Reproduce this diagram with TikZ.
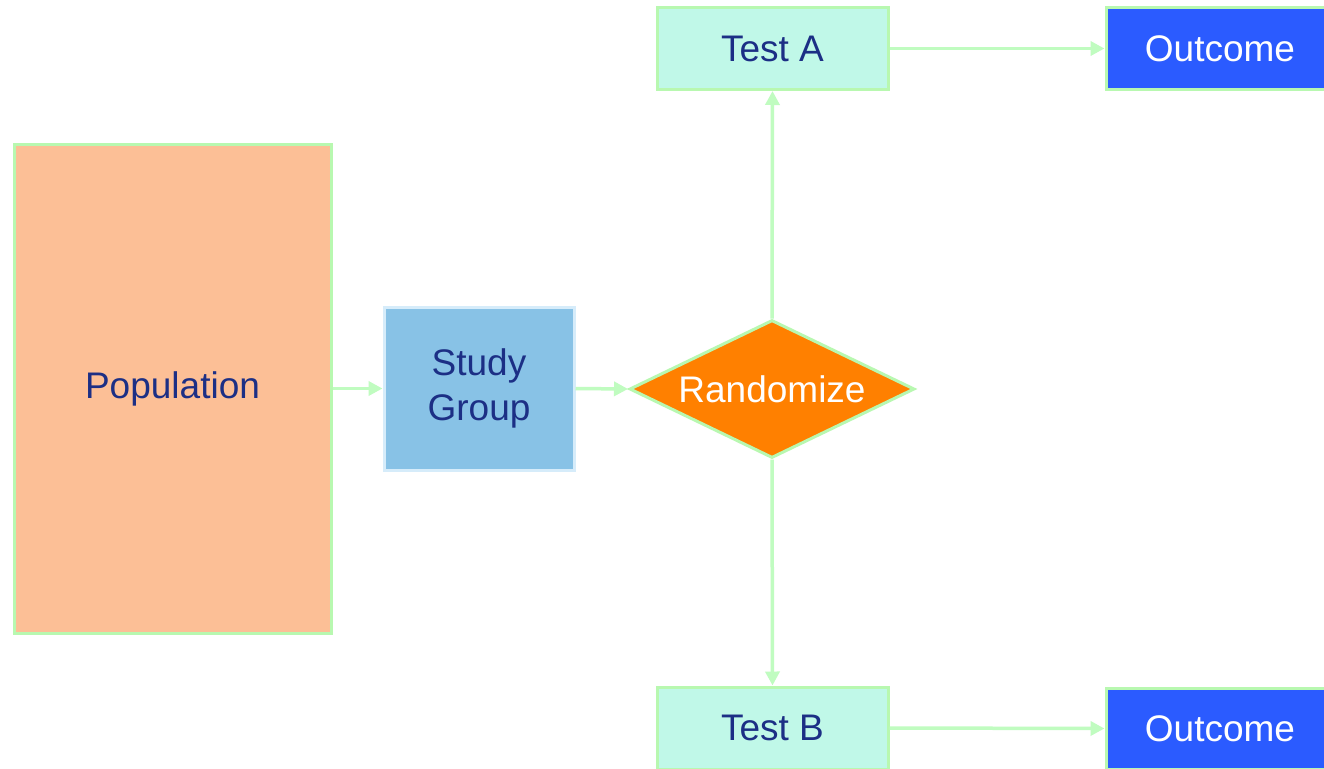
\documentclass[tikz,border=0pt]{standalone}
\usepackage{fontspec}
\setmainfont{Liberation Sans}
\usetikzlibrary{shapes.geometric,arrows.meta}
\definecolor{bordgreen}{HTML}{B8F8B0}
\definecolor{arrgreen}{HTML}{C0FCC0}
\definecolor{txtblue}{HTML}{1C2F85}
\definecolor{peach}{HTML}{FCBF96}
\definecolor{skyblue}{HTML}{88C2E6}
\definecolor{paleblue}{HTML}{D6ECFA}
\definecolor{mint}{HTML}{C0F8E8}
\definecolor{outblue}{HTML}{2B5BFF}
\definecolor{orangefill}{HTML}{FF8000}
\tikzset{
  x=1pt, y=-1pt,
  box/.style={draw=bordgreen, line width=3pt, inner sep=0pt, font=\fontsize{37}{45}\selectfont, text=txtblue, align=center},
  popbox/.style={box, fill=peach, minimum width=317pt, minimum height=489pt},
  studybox/.style={box, draw=paleblue, fill=skyblue, minimum width=190pt, minimum height=163pt},
  testbox/.style={box, fill=mint, minimum width=231pt, minimum height=82pt},
  outbox/.style={box, fill=outblue, text=white, minimum width=228pt, minimum height=81pt},
  randbox/.style={box, shape=diamond, fill=orangefill, text=white, aspect=2.07, minimum width=285pt, minimum height=138pt},
  conn/.style={draw=arrgreen, line width=3.5pt, -{Triangle[length=14pt,width=14pt]}}
}
\begin{document}
\begin{tikzpicture}
\useasboundingbox (0,0) rectangle (1324,768);
\clip (0,0) rectangle (1324,768);
\fill[white] (0,0) rectangle (1324,768);
\node[popbox] (pop) at (172.5,388.5) {Population};
\node[studybox] (study) at (479,388.5) {Study\\Group};
\node[randbox] (rand) at (772,389) {Randomize};
\node[testbox] (testa) at (772.5,48.5) {Test A};
\node[testbox] (testb) at (772.5,728) {Test B};
\node[outbox] (outa) at (1220,48.5) {Outcome};
\node[outbox] (outb) at (1220,728.5) {Outcome};
\draw[conn] (pop.east) -- (study.west);
\draw[conn] (study.east) -- (rand.west);
\draw[conn] (rand.north) -- (testa.south);
\draw[conn] (rand.south) -- (testb.north);
\draw[conn] (testa.east) -- (outa.west);
\draw[conn] (testb.east) -- (outb.west);
\end{tikzpicture}
\end{document}
